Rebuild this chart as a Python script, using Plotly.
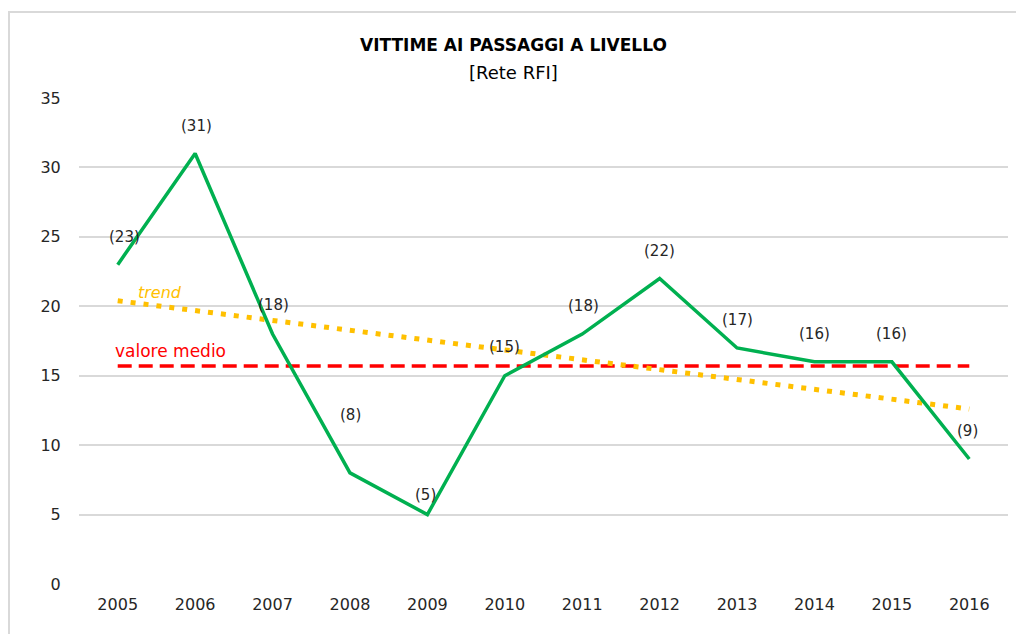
import plotly.graph_objects as go

years = ["2005", "2006", "2007", "2008", "2009", "2010", "2011", "2012", "2013", "2014", "2015", "2016"]
vittime = [23, 31, 18, 8, 5, 15, 18, 22, 17, 16, 16, 9]
trend_years = ["2005", "2016"]
trend_values = [20.4, 12.6]
media_value = 15.7
labels = ["(23)", "(31)", "(18)", "(8)", "(5)", "(15)", "(18)", "(22)", "(17)", "(16)", "(16)", "(9)"]
label_shift = [28, 28, 29, 58, 20, 29, 28, 28, 28, 28, 28, 28]
label_xshift = [7, 1, 1, 1, -2, 0, 1, 0, 0, 0, 0, -2]

FONT = "DejaVu Sans"
ML, MR, MT, MB = 71, 24, 90, 58
PW, PH = 1024 - ML - MR, 634 - MT - MB

fig = go.Figure()
fig.add_trace(go.Scatter(x=years, y=[media_value] * len(years), mode="lines",
                         line=dict(color="#FF0000", width=3.5, dash="14px,7px"),
                         hoverinfo="skip", showlegend=False))
fig.add_trace(go.Scatter(x=trend_years, y=trend_values, mode="lines",
                         line=dict(color="#FFC000", width=5, dash="5px,8px"),
                         hoverinfo="skip", showlegend=False))
fig.add_trace(go.Scatter(x=years, y=vittime, mode="lines",
                         line=dict(color="#00B050", width=3.5),
                         showlegend=False))

for i, (v, t, s, xs) in enumerate(zip(vittime, labels, label_shift, label_xshift)):
    fig.add_annotation(x=i, y=v, xref="x", yref="y", text=t, showarrow=False, yshift=s, xshift=xs,
                       font=dict(family=FONT, size=15, color="#262626"))

fig.add_annotation(x=0.55, y=21.0, xref="x", yref="y", text="<i>trend</i>", showarrow=False,
                   font=dict(family=FONT, size=16, color="#FFC000"))
fig.add_annotation(x=0.68, y=16.8, xref="x", yref="y", text="valore medio", showarrow=False,
                   font=dict(family=FONT, size=17, color="#FF0000"))

title_x = (505 - ML) / PW
fig.add_annotation(x=title_x, y=1, xref="paper", yref="paper", yanchor="middle", yshift=53,
                   text="<b>VITTIME AI PASSAGGI A LIVELLO</b>", showarrow=False,
                   font=dict(family=FONT, size=17, color="#000000"))
fig.add_annotation(x=title_x, y=1, xref="paper", yref="paper", yanchor="middle", yshift=26,
                   text="[Rete RFI]", showarrow=False,
                   font=dict(family=FONT, size=18, color="#000000"))

fig.update_layout(
    width=1024, height=634,
    margin=dict(l=ML, r=MR, t=MT, b=MB),
    paper_bgcolor="white", plot_bgcolor="white",
    font=dict(family=FONT, size=16, color="#262626"),
    xaxis=dict(type="category", range=[-0.5, 11.5], showgrid=False, zeroline=False,
               showline=False, ticks="outside", ticklen=6, tickcolor="rgba(0,0,0,0)",
               tickfont=dict(size=16, color="#262626")),
    yaxis=dict(range=[0, 35], dtick=5, showgrid=True, gridcolor="#D9D9D9", gridwidth=1.5,
               zeroline=False, showline=False, ticks="outside", ticklen=14, tickcolor="rgba(0,0,0,0)",
               tickfont=dict(size=16, color="#262626")),
)

# chart border (top and left edges visible)
bx = -ML / PW
by = 1 + (MT - 4) / PH
fig.add_shape(type="line", xref="paper", yref="paper", x0=bx, x1=1 + MR / PW, y0=by, y1=by,
              line=dict(color="#D9D9D9", width=2))
fig.add_shape(type="line", xref="paper", yref="paper", x0=bx + 1 / PW, x1=bx + 1 / PW, y0=-MB / PH, y1=by,
              line=dict(color="#D9D9D9", width=2))

fig.write_html("out.html")
